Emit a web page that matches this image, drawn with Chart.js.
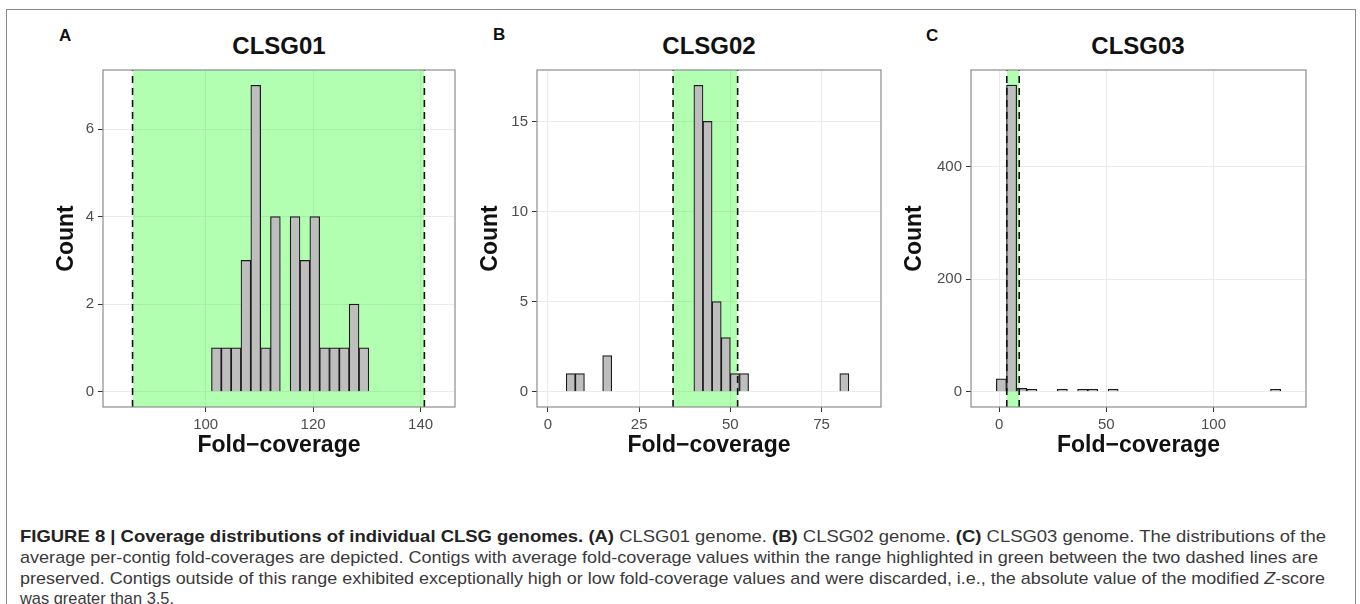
<!DOCTYPE html>
<html>
<head>
<meta charset="utf-8">
<script src="https://cdn.jsdelivr.net/npm/chart.js@4.4.1/dist/chart.umd.min.js"></script>
<style>
  html, body { margin: 0; padding: 0; background: #fff; }
  body { width: 1360px; height: 604px; position: relative; overflow: hidden; font-family: "Liberation Sans", Arial, sans-serif; }
  .frame { position: absolute; left: 6px; top: 9px; width: 1350px; height: 640px; border: 1px solid #8a8a8a; box-sizing: border-box; }
  .tag { position: absolute; font-weight: bold; font-size: 17px; color: #111; line-height: 1; }
  .ttl { position: absolute; font-weight: bold; font-size: 24px; color: #111; line-height: 1; white-space: nowrap; transform: translateX(-50%); }
  .box { position: absolute; }
  .cap { position: absolute; left: 20px; font-size: 17px; color: #3a3a3a; white-space: nowrap; line-height: 1; transform-origin: 0 50%; }
  .cap b { color: #222; }
</style>
</head>
<body>
<div class="frame"></div>

<div class="tag" style="left:59px; top:27px;">A</div>
<div class="tag" style="left:493px; top:26px;">B</div>
<div class="tag" style="left:926px; top:27px;">C</div>

<div class="ttl" style="left:279px; top:34px;">CLSG01</div>
<div class="ttl" style="left:709px; top:34px;">CLSG02</div>
<div class="ttl" style="left:1138px; top:34px;">CLSG03</div>

<div class="box" style="left:53px; top:57px; width:406px; height:402px;"><canvas id="chartA"></canvas></div>
<div class="box" style="left:477px; top:57px; width:408px; height:402px;"><canvas id="chartB"></canvas></div>
<div class="box" style="left:901px; top:57px; width:409px; height:402px;"><canvas id="chartC"></canvas></div>

<div class="cap" data-w="1306" style="top:528px;"><b>FIGURE 8 | Coverage distributions of individual CLSG genomes. (A)</b> CLSG01 genome. <b>(B)</b> CLSG02 genome. <b>(C)</b> CLSG03 genome. The distributions of the</div>
<div class="cap" data-w="1298" style="top:549px;">average per-contig fold-coverages are depicted. Contigs with average fold-coverage values within the range highlighted in green between the two dashed lines are</div>
<div class="cap" data-w="1305" style="top:570px;">preserved. Contigs outside of this range exhibited exceptionally high or low fold-coverage values and were discarded, i.e., the absolute value of the modified <i>Z</i>-score</div>
<div class="cap" data-w="154" style="top:590px;">was greater than 3.5.</div>

<script>
// CLSG01 - centros de los bins y conteos
const binsA = [102.0, 103.83, 105.66, 107.49, 109.32, 111.15, 112.98, 116.64, 118.47, 120.3, 122.13, 123.96, 125.79, 127.62, 129.45];
const countsA = [1, 1, 1, 3, 7, 1, 4, 4, 3, 4, 1, 1, 1, 2, 1];
const cutA = [86.4, 140.7];
const xTicksA = [100, 120, 140];
const yTicksA = [0, 2, 4, 6];
const xLimA = [80.9, 146.4];
const yLimA = [-0.35, 7.35];

// CLSG02
const binsB = [6.25, 8.75, 16.25, 41.25, 43.75, 46.25, 48.75, 51.25, 53.75, 81.25];
const countsB = [1, 1, 2, 17, 15, 5, 3, 1, 1, 1];
const cutB = [34.3, 52.0];
const xTicksB = [0, 25, 50, 75];
const yTicksB = [0, 5, 10, 15];
const xLimB = [-3.0, 91.3];
const yLimB = [-0.85, 17.85];

// CLSG03
const binsC = [1.01, 5.75, 10.49, 15.23, 29.45, 38.93, 43.67, 53.15, 129.0];
const countsC = [23, 545, 6, 2, 1, 1, 1, 1, 1];
const cutC = [3.5, 9.3];
const xTicksC = [0, 50, 100];
const yTicksC = [0, 200, 400];
const xLimC = [-13.2, 143.2];
const yLimC = [-27, 572];

const tickFont = { family: "'Liberation Sans', Arial, sans-serif", size: 15 };
const titleFont = { family: "'Liberation Sans', Arial, sans-serif", size: 23, weight: "bold" };

// Borde gris alrededor del panel (como theme_bw)
const panelBorder = {
  id: "panelBorder",
  afterDatasetsDraw(chart) {
    const { ctx, chartArea: a } = chart;
    ctx.save();
    ctx.strokeStyle = "#8c8c8c";
    ctx.lineWidth = 1.2;
    ctx.strokeRect(a.left, a.top, a.right - a.left, a.bottom - a.top);
    ctx.restore();
  },
};

function makeHist(id, bins, counts, cut, xTicks, yTicks, xLim, yLim, yAxisWidth, minBar) {
  const ctx = document.getElementById(id).getContext("2d");
  return new Chart(ctx, {
    type: "bar",
    data: {
      datasets: [
        {
          // zona verde entre los dos cortes
          type: "line",
          data: [{ x: cut[0], y: yLim[1] }, { x: cut[1], y: yLim[1] }],
          fill: "start",
          backgroundColor: "rgba(0, 255, 0, 0.3)",
          borderWidth: 0,
          pointRadius: 0,
          order: 3,
        },
        {
          type: "bar",
          data: bins.map((x, i) => ({ x: x, y: counts[i] })),
          backgroundColor: "#bebebe",
          borderColor: "#1a1a1a",
          borderWidth: 1.2,
          barPercentage: 1,
          categoryPercentage: 1,
          minBarLength: minBar,
          order: 2,
        },
        {
          type: "line",
          data: [{ x: cut[0], y: yLim[0] }, { x: cut[0], y: yLim[1] }],
          borderColor: "#111",
          borderWidth: 1.6,
          borderDash: [7, 5],
          pointRadius: 0,
          fill: false,
          order: 1,
        },
        {
          type: "line",
          data: [{ x: cut[1], y: yLim[0] }, { x: cut[1], y: yLim[1] }],
          borderColor: "#111",
          borderWidth: 1.6,
          borderDash: [7, 5],
          pointRadius: 0,
          fill: false,
          order: 1,
        },
      ],
    },
    options: {
      responsive: true,
      maintainAspectRatio: false,
      animation: false,
      layout: { padding: { top: 10, right: 4, bottom: 0, left: 0 } },
      plugins: { legend: { display: false }, tooltip: { enabled: false } },
      scales: {
        x: {
          type: "linear",
          min: xLim[0],
          max: xLim[1],
          offset: false,
          afterBuildTicks: (s) => { s.ticks = xTicks.map((v) => ({ value: v })); },
          afterFit: (s) => { s.height = 52; },
          grid: { offset: false, color: "#ebebeb", tickColor: "#333", tickLength: 5 },
          border: { display: false },
          ticks: { font: tickFont, color: "#4d4d4d", padding: 4, autoSkip: false, maxRotation: 0 },
          title: { display: true, text: "Fold\u2212coverage", font: titleFont, color: "#111", padding: { top: 0, bottom: 0 } },
        },
        y: {
          min: yLim[0],
          max: yLim[1],
          afterBuildTicks: (s) => { s.ticks = yTicks.map((v) => ({ value: v })); },
          afterFit: (s) => { s.width = yAxisWidth; },
          grid: { color: "#ebebeb", tickColor: "#333", tickLength: 5 },
          border: { display: false },
          ticks: { font: tickFont, color: "#4d4d4d", padding: 4 },
          title: { display: true, text: "Count", font: titleFont, color: "#111", padding: { top: 0, bottom: 0 } },
        },
      },
    },
    plugins: [panelBorder],
  });
}

makeHist("chartA", binsA, countsA, cutA, xTicksA, yTicksA, xLimA, yLimA, 50, 0);
makeHist("chartB", binsB, countsB, cutB, xTicksB, yTicksB, xLimB, yLimB, 60, 0);
makeHist("chartC", binsC, countsC, cutC, xTicksC, yTicksC, xLimC, yLimC, 70, 2.4);

// Ajustar el ancho de cada línea del pie de figura
document.querySelectorAll(".cap").forEach((el) => {
  const target = parseFloat(el.dataset.w);
  const w = el.getBoundingClientRect().width;
  el.style.transform = "scaleX(" + (target / w).toFixed(4) + ")";
});
</script>
</body>
</html>
